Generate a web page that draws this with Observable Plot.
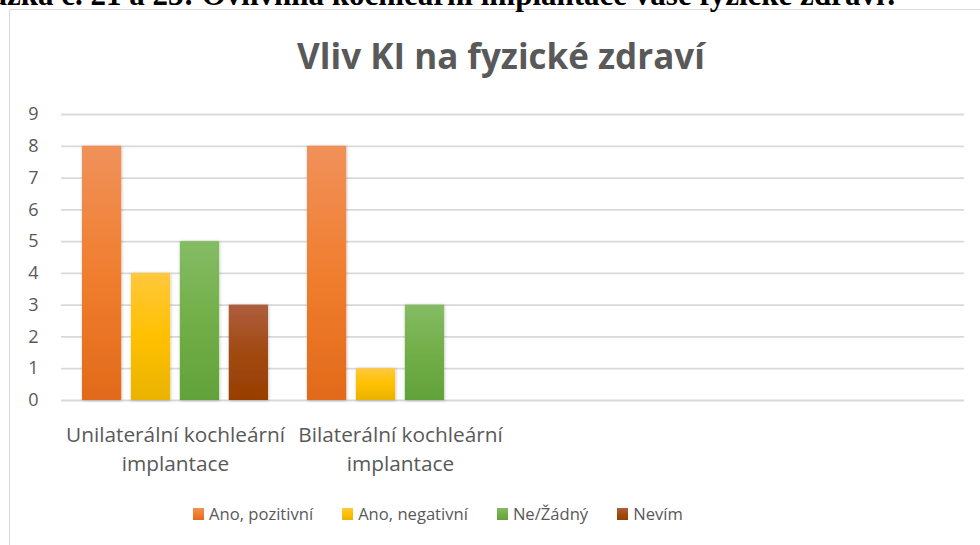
<!DOCTYPE html>
<html>
<head>
<meta charset="utf-8">
<script src="https://cdn.jsdelivr.net/npm/d3@7"></script>
<script src="https://cdn.jsdelivr.net/npm/@observablehq/plot@0.6"></script>
<style>
  html, body { margin: 0; padding: 0; background: #fff; overflow: hidden; }
  #wrap { position: relative; width: 980px; height: 545px; overflow: hidden; font-family: "Open Sans", sans-serif; }
  #frame { position: absolute; left: 9px; top: 9px; width: 1100px; height: 700px; border: 1.5px solid #D9D9D9; box-sizing: border-box; }
  #header { position: absolute; right: 80px; top: -21px; font-family: "Liberation Serif", serif; font-weight: bold; font-size: 31px; line-height: 31px; color: #000; white-space: nowrap; }
  #title { position: absolute; left: 0; width: 1002px; top: 38px; text-align: center; font-family: "Open Sans", sans-serif; font-weight: bold; font-size: 35px; line-height: 35px; color: #595959; white-space: nowrap; }
  #chart { position: absolute; left: 0; top: 0; }
  #legend { position: absolute; left: 193px; top: 506px; display: flex; align-items: center; font-size: 16.6px; line-height: 16.6px; color: #595959; white-space: nowrap; }
  .item { display: flex; align-items: center; margin-right: 29px; }
  .sw { width: 11px; height: 12px; margin-right: 5px; }
</style>
</head>
<body>
<div id="wrap">
  <div id="frame"></div>
  <div id="header">Otázka č. 21 a 23: Ovlivnila kochleární implantace vaše fyzické zdraví?</div>
  <div id="title">Vliv KI na fyzické zdraví</div>
  <div id="chart"></div>
  <div id="legend"></div>
</div>
<script>
// ---- data ----
const categories = ["Unilaterální kochleární implantace", "Bilaterální kochleární implantace", "", " "];
const seriesNames = ["Ano, pozitivní", "Ano, negativní", "Ne/Žádný", "Nevím"];
const unilateralValues = [8, 4, 5, 3];
const bilateralValues = [8, 1, 3, 0];
const yTicks = [0, 1, 2, 3, 4, 5, 6, 7, 8, 9];

// ---- styling ----
const gradients = [
  ["#F0915A", "#F07E2F", "#E26A1A"],
  ["#FFC83D", "#FFC000", "#E9B304"],
  ["#84BC64", "#72AE48", "#62A23A"],
  ["#AE5E3E", "#A24A12", "#983E00"]
];

const rows = [];
seriesNames.forEach((s, i) => {
  rows.push({category: categories[0], series: s, value: unilateralValues[i]});
  rows.push({category: categories[1], series: s, value: bilateralValues[i]});
});

const W = 980, ML = 61, MR = 16;
const pInner = 0.173, pOuter = 0.0865;
const step = (W - ML - MR) / (categories.length - pInner + 2 * pOuter);
const bw = step * (1 - pInner);
const sub = d3.scaleBand().domain(seriesNames).range([0, bw]).paddingInner(0.184).paddingOuter(0);

const chart = Plot.plot({
  width: W,
  height: 480,
  marginLeft: ML,
  marginRight: MR,
  marginTop: 114,
  marginBottom: 80,
  style: {fontFamily: "Open Sans, sans-serif", color: "#595959", background: "transparent", overflow: "visible"},
  x: {type: "band", domain: categories, paddingInner: pInner, paddingOuter: pOuter, label: null},
  y: {domain: [0, 9], label: null},
  marks: [
    Plot.ruleY(yTicks, {stroke: "#D9D9D9", strokeWidth: 1.8}),
    ...seriesNames.map((s, i) => Plot.barY(rows.filter(r => r.series === s), {
      x: "category",
      y: "value",
      fill: `url(#grad${i})`,
      insetLeft: sub(s),
      insetRight: bw - sub(s) - sub.bandwidth()
    })),
    Plot.axisY({ticks: yTicks, tickSize: 0, tickPadding: 23, fontSize: 18, fill: "#595959"}),
    Plot.axisX({tickSize: 0, tickPadding: 22, fontSize: 20.8, lineHeight: 1.35, fill: "#595959",
      tickFormat: d => d.replace(" implantace", "\nimplantace")})
  ]
});

const svg = d3.select(chart);
const defs = svg.insert("defs", ":first-child");
gradients.forEach((g, i) => {
  const lg = defs.append("linearGradient").attr("id", `grad${i}`).attr("x1", 0).attr("y1", 0).attr("x2", 0).attr("y2", 1);
  lg.append("stop").attr("offset", "0%").attr("stop-color", g[0]);
  lg.append("stop").attr("offset", "50%").attr("stop-color", g[1]);
  lg.append("stop").attr("offset", "100%").attr("stop-color", g[2]);
});
const f = defs.append("filter").attr("id", "shadow").attr("x", "-20%").attr("y", "-10%").attr("width", "140%").attr("height", "120%");
f.append("feDropShadow").attr("dx", 0.5).attr("dy", 0.5).attr("stdDeviation", 1.5).attr("flood-color", "#000").attr("flood-opacity", 0.25);
svg.selectAll('g[aria-label="bar"]').attr("filter", "url(#shadow)");

document.getElementById("chart").appendChild(chart);

// legend
const legend = document.getElementById("legend");
seriesNames.forEach((s, i) => {
  const it = document.createElement("div");
  it.className = "item";
  const sw = document.createElement("div");
  sw.className = "sw";
  sw.style.background = `linear-gradient(${gradients[i][0]}, ${gradients[i][1]}, ${gradients[i][2]})`;
  const t = document.createElement("span");
  t.textContent = s;
  it.appendChild(sw);
  it.appendChild(t);
  legend.appendChild(it);
});
</script>
</body>
</html>
